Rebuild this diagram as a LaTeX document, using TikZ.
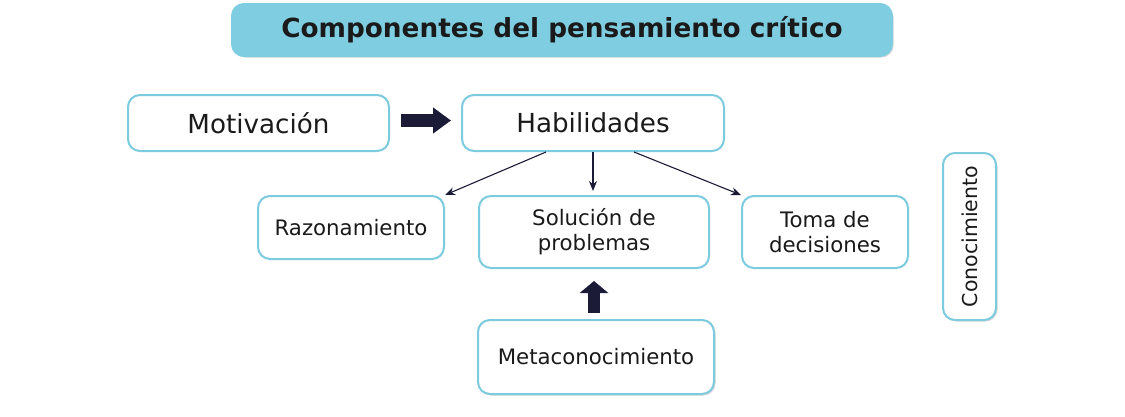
\documentclass[tikz,border=0pt]{standalone}
\usepackage{fontspec}
\setmainfont{DejaVu Sans}
\usetikzlibrary{arrows.meta,shadows}
\definecolor{titlefill}{HTML}{7FCDE0}
\definecolor{edgeblue}{HTML}{7CCBDF}
\definecolor{navy}{HTML}{1B1B38}
\definecolor{txt}{HTML}{1A1A1A}
\tikzset{
  box/.style={draw=edgeblue, line width=2pt, rounded corners=12pt, fill=white,
    align=center, inner sep=0pt, text=txt},
  bigtxt/.style={font=\fontsize{26.2}{30}\selectfont},
  smalltxt/.style={font=\fontsize{21.3}{25}\selectfont},
  soft/.style={drop shadow={shadow xshift=1.5pt, shadow yshift=-1.5pt, fill=gray!60, opacity=0.5}},
  thin arrow/.style={draw=navy, line width=1.1pt, -{Stealth[length=10pt,width=8pt]}},
  fat arrow/.style={draw=navy},
}
\begin{document}
\begin{tikzpicture}[x=1pt,y=-1pt]
\useasboundingbox (0,0) rectangle (1125,416);
\fill[white] (0,0) rectangle (1125,416);

\node[box, soft, fill=titlefill, draw=titlefill, minimum width=660pt, minimum height=52pt,
  font=\fontsize{26.3}{30}\selectfont\bfseries] (title) at (562,30) {Componentes del pensamiento crítico};

\node[box, bigtxt, minimum width=261pt, minimum height=56pt] (mot) at (258.5,123) {Motivación};
\node[box, bigtxt, minimum width=262pt, minimum height=56pt] (hab) at (593,123) {Habilidades};

\node[box, smalltxt, minimum width=186pt, minimum height=63pt] (raz) at (351,227.5) {Razonamiento};
\node[box, smalltxt, minimum width=230pt, minimum height=72pt] (sol) at (594,232) {Solución de\\problemas};
\node[box, smalltxt, minimum width=166pt, minimum height=72pt] (tom) at (825,232) {Toma de\\decisiones};
\node[box, smalltxt, soft, minimum width=236pt, minimum height=74pt] (meta) at (596,357) {Metaconocimiento};
\node[box, soft, font=\fontsize{20.5}{24}\selectfont, rotate=90, minimum width=167pt, minimum height=53pt] (con) at (969.5,236.5) {Conocimiento};

\draw[thin arrow] ([xshift=-47pt]hab.south) -- (raz.north east);
\draw[thin arrow, shorten >=4pt] (hab.south) -- (hab.south |- sol.north);
\draw[thin arrow] ([xshift=41pt]hab.south) -- (tom.north west);

\draw[fat arrow, line width=13pt, -{Triangle[length=18pt,width=25pt]},
  shorten <=11pt, shorten >=10pt] ([yshift=2.5pt]mot.east) -- ([yshift=2.5pt]hab.west);
\draw[fat arrow, line width=12pt, -{Triangle[length=12pt,width=28pt]},
  shorten <=6pt, shorten >=12pt] (sol.south |- meta.north) -- (sol.south);
\end{tikzpicture}
\end{document}
